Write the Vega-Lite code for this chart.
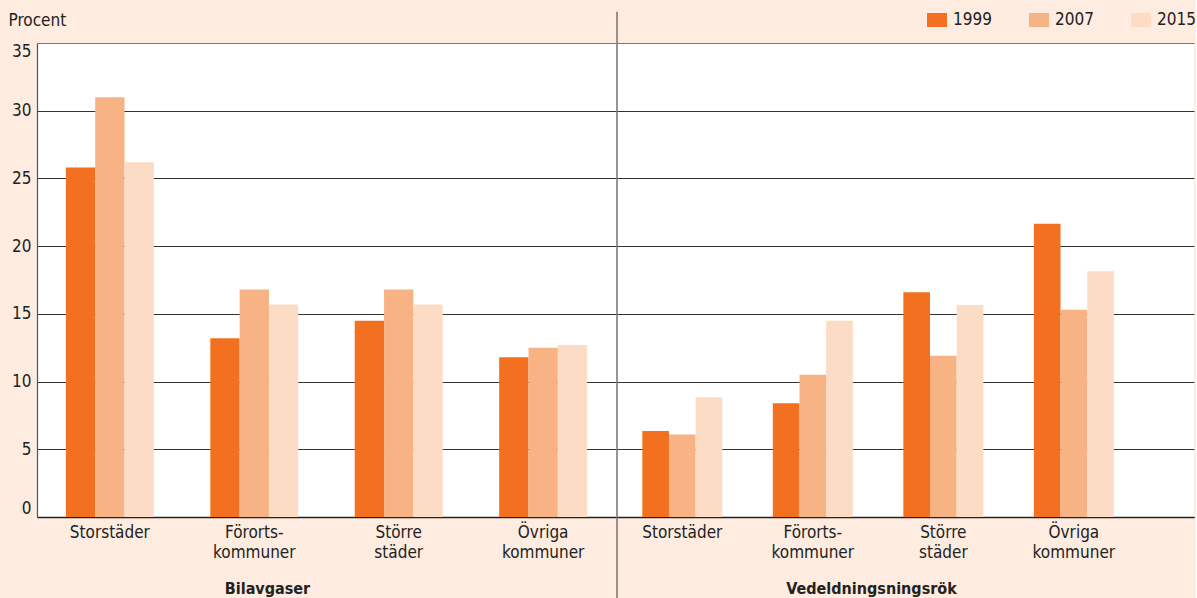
{
  "$schema": "https://vega.github.io/schema/vega-lite/v6.json",
  "padding": {"left": 8, "top": 10, "right": 0, "bottom": 0},
  "background": "#fdecdf",
  "spacing": 0,
  "resolve": {"scale": {"x": "independent", "xOffset": "independent"}},
  "config": {
    "font": "Liberation Sans Narrow, DejaVu Sans Condensed, sans-serif",
    "view": {"fill": "white", "stroke": null},
    "legend": {
      "orient": "none", "legendX": 890, "legendY": -33, "direction": "horizontal",
      "labelFontSize": 17, "labelColor": "#222", "symbolType": "M-1,-0.7H1V0.7H-1Z", "symbolSize": 400,
      "symbolStrokeWidth": 0, "symbolOpacity": 1, "columnPadding": 37, "labelOffset": 6
    }
  },
  "data": {"values": [
    {"group": "Bilavgaser", "cat": "Storstäder", "year": "1999", "value": 25.8},
    {"group": "Bilavgaser", "cat": "Storstäder", "year": "2007", "value": 31.0},
    {"group": "Bilavgaser", "cat": "Storstäder", "year": "2015", "value": 26.2},
    {"group": "Bilavgaser", "cat": "Förorts-|kommuner", "year": "1999", "value": 13.2},
    {"group": "Bilavgaser", "cat": "Förorts-|kommuner", "year": "2007", "value": 16.8},
    {"group": "Bilavgaser", "cat": "Förorts-|kommuner", "year": "2015", "value": 15.7},
    {"group": "Bilavgaser", "cat": "Större|städer", "year": "1999", "value": 14.5},
    {"group": "Bilavgaser", "cat": "Större|städer", "year": "2007", "value": 16.8},
    {"group": "Bilavgaser", "cat": "Större|städer", "year": "2015", "value": 15.7},
    {"group": "Bilavgaser", "cat": "Övriga|kommuner", "year": "1999", "value": 11.8},
    {"group": "Bilavgaser", "cat": "Övriga|kommuner", "year": "2007", "value": 12.5},
    {"group": "Bilavgaser", "cat": "Övriga|kommuner", "year": "2015", "value": 12.7},
    {"group": "Vedeldningsnigsrök", "cat": "Storstäder", "year": "1999", "value": 6.35},
    {"group": "Vedeldningsnigsrök", "cat": "Storstäder", "year": "2007", "value": 6.1},
    {"group": "Vedeldningsnigsrök", "cat": "Storstäder", "year": "2015", "value": 8.85},
    {"group": "Vedeldningsnigsrök", "cat": "Förorts-|kommuner", "year": "1999", "value": 8.4},
    {"group": "Vedeldningsnigsrök", "cat": "Förorts-|kommuner", "year": "2007", "value": 10.5},
    {"group": "Vedeldningsnigsrök", "cat": "Förorts-|kommuner", "year": "2015", "value": 14.5},
    {"group": "Vedeldningsnigsrök", "cat": "Större|städer", "year": "1999", "value": 16.6},
    {"group": "Vedeldningsnigsrök", "cat": "Större|städer", "year": "2007", "value": 11.9},
    {"group": "Vedeldningsnigsrök", "cat": "Större|städer", "year": "2015", "value": 15.65},
    {"group": "Vedeldningsnigsrök", "cat": "Övriga|kommuner", "year": "1999", "value": 21.65},
    {"group": "Vedeldningsnigsrök", "cat": "Övriga|kommuner", "year": "2007", "value": 15.3},
    {"group": "Vedeldningsnigsrök", "cat": "Övriga|kommuner", "year": "2015", "value": 18.15}
  ]},
  "hconcat": [
    {
      "width": 579, "height": 474,
      "transform": [{"filter": "datum.group == 'Bilavgaser'"}],
      "mark": {"type": "bar"},
      "encoding": {
        "x": {"field": "cat", "type": "nominal",
          "sort": ["Storstäder", "Förorts-|kommuner", "Större|städer", "Övriga|kommuner"],
          "scale": {"paddingInner": 0.391, "paddingOuter": 0.2},
          "axis": {"title": "Bilavgaser", "labelAngle": 0, "labelExpr": "split(datum.label, '|')",
            "labelFontSize": 17, "labelLineHeight": 20, "labelColor": "#222", "labelPadding": 7,
            "ticks": false, "domainColor": "#222", "domainWidth": 1.5,
            "titleFontSize": 16, "titleFontWeight": "bold", "titleColor": "#222", "titlePadding": 20,
            "titleX": 230}},
        "xOffset": {"field": "year", "type": "nominal", "scale": {"paddingInner": 0, "paddingOuter": 0}},
        "y": {"field": "value", "type": "quantitative",
          "scale": {"domain": [0, 35], "nice": false},
          "axis": {"values": [0, 5, 10, 15, 20, 25, 30, 35], "labelFlush": true, "labelFontSize": 17,
            "labelColor": "#222", "labelPadding": 6, "ticks": false, "domainColor": "#555", "domainWidth": 1.2,
            "gridColor": {"condition": {"test": "datum.value == 35", "value": "#777"}, "value": "#333"},
            "gridWidth": 1.1,
            "title": "Procent", "titleAngle": 0, "titleX": -29, "titleY": -23, "titleAlign": "left",
            "titleBaseline": "middle", "titleFontSize": 17, "titleFontWeight": "normal", "titleColor": "#222"}},
        "color": {"field": "year", "type": "nominal", "title": null,
          "scale": {"domain": ["1999", "2007", "2015"], "range": ["#f37021", "#f8b384", "#fcdcc5"]}}
      }
    },
    {
      "width": 577, "height": 474,
      "transform": [{"filter": "datum.group == 'Vedeldningsnigsrök'"}],
      "layer": [
        {
          "mark": {"type": "bar"},
          "encoding": {
            "x": {"field": "cat", "type": "nominal",
              "sort": ["Storstäder", "Förorts-|kommuner", "Större|städer", "Övriga|kommuner"],
              "scale": {"paddingInner": 0.387, "paddingOuter": 0.404, "align": 0.24},
              "axis": {"title": "Vedeldningsningsrök", "labelAngle": 0, "labelExpr": "split(datum.label, '|')",
                "labelFontSize": 17, "labelLineHeight": 20, "labelColor": "#222", "labelPadding": 7,
                "ticks": false, "domainColor": "#222", "domainWidth": 1.5,
                "titleFontSize": 16, "titleFontWeight": "bold", "titleColor": "#222", "titlePadding": 20,
                "titleX": 254}},
            "xOffset": {"field": "year", "type": "nominal", "scale": {"paddingInner": 0, "paddingOuter": 0}},
            "y": {"field": "value", "type": "quantitative",
              "scale": {"domain": [0, 35], "nice": false},
              "axis": {"values": [0, 5, 10, 15, 20, 25, 30, 35], "labels": false, "ticks": false, "domain": false,
                "gridColor": {"condition": {"test": "datum.value == 35", "value": "#777"}, "value": "#333"},
                "gridWidth": 1.1, "title": null}},
            "color": {"field": "year", "type": "nominal", "title": null,
              "scale": {"domain": ["1999", "2007", "2015"], "range": ["#f37021", "#f8b384", "#fcdcc5"]}}
          }
        },
        {
          "transform": [{"filter": "datum.cat == 'Storstäder' && datum.year == '1999'"}],
          "mark": {"type": "rule", "color": "#555", "strokeWidth": 1.2, "clip": false},
          "encoding": {
            "x": {"field": "cat", "type": "nominal", "bandPosition": -0.316,
              "sort": ["Storstäder", "Förorts-|kommuner", "Större|städer", "Övriga|kommuner"]},
            "y": {"datum": 37.3},
            "y2": {"datum": -6}
          }
        }
      ]
    }
  ]
}
